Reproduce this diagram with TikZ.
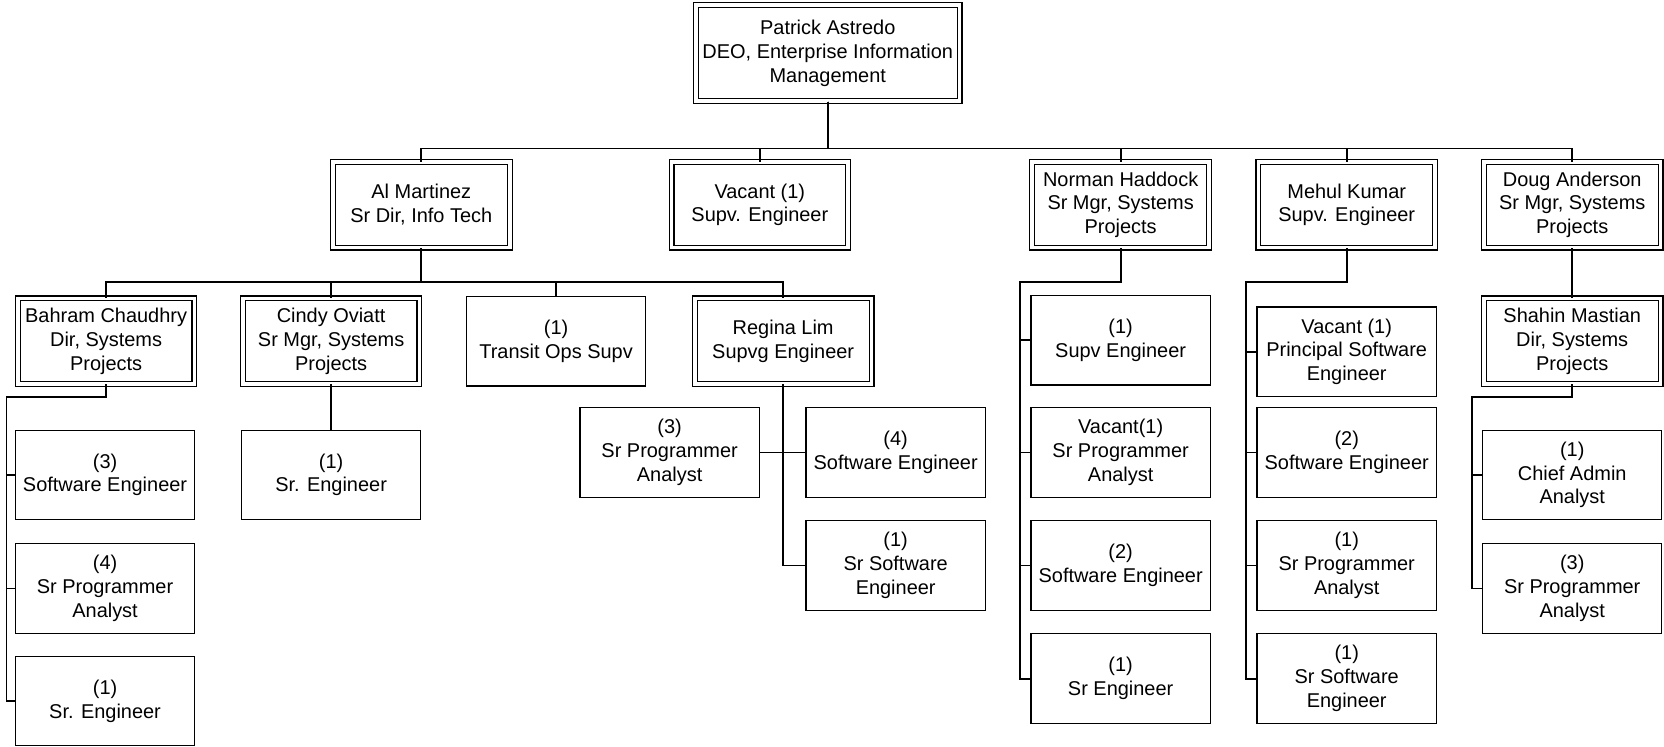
\documentclass[tikz,border=0pt]{standalone}
\usepackage{fontspec}
\setmainfont{Liberation Sans}

\begin{document}
\begin{tikzpicture}[x=0.02cm, y=-0.02cm,
every node/.style = {shape=rectangle, align=center, inner sep=0pt, font=\fontsize{10.7}{12.8}\selectfont},
box/.style = {draw, line width=0.6pt, minimum width=3.38cm, minimum height=1.69cm},
dbox/.style = {draw, double, line width=0.6pt, double distance=2pt, minimum width=3.33cm, minimum height=1.61cm},
link/.style = {draw, line width=0.9pt}]
%
\useasboundingbox (0,0) rectangle (1568,703);
%
\node [dbox, minimum width=4.97cm, minimum height=1.81cm] (deo) at (780,50) {Patrick Astredo \\ DEO, Enterprise Information \\ Management};
%
\node [dbox] (martinez) at (397,193) {Al Martinez \\ Sr Dir, Info Tech};
\node [dbox] (vacant) at (716,193) {Vacant (1) \\ Supv. Engineer};
\node [dbox] (haddock) at (1056,193) {Norman Haddock \\ Sr Mgr, Systems \\ Projects};
\node [dbox] (kumar) at (1269,193) {Mehul Kumar \\ Supv. Engineer};
\node [dbox] (anderson) at (1481.5,193) {Doug Anderson \\ Sr Mgr, Systems \\ Projects};
%
\node [dbox] (chaudhry) at (100,321.5) {Bahram Chaudhry \\ Dir, Systems \\ Projects};
\node [dbox] (oviatt) at (312,321.5) {Cindy Oviatt \\ Sr Mgr, Systems \\ Projects};
\node [box] (transit) at (524,321.5) {(1) \\ Transit Ops Supv};
\node [dbox] (lim) at (738,321.5) {Regina Lim \\ Supvg Engineer};
\node [dbox] (mastian) at (1481.5,321.5) {Shahin Mastian \\ Dir, Systems \\ Projects};
%
\node [box] (chaudhry_se) at (99,447.5) {(3) \\ Software Engineer};
\node [box] (chaudhry_spa) at (99,554.5) {(4) \\ Sr Programmer \\ Analyst};
\node [box] (chaudhry_sr) at (99,660.5) {(1) \\ Sr. Engineer};
\node [box] (oviatt_sr) at (312,447.5) {(1) \\ Sr. Engineer};
\node [box] (lim_spa) at (631,426.5) {(3) \\ Sr Programmer \\ Analyst};
\node [box] (lim_se) at (844,426.5) {(4) \\ Software Engineer};
\node [box] (lim_sse) at (844,533) {(1) \\ Sr Software \\ Engineer};
%
\node [box] (haddock_supv) at (1056,320.5) {(1) \\ Supv Engineer};
\node [box] (haddock_spa) at (1056,426.5) {Vacant(1) \\ Sr Programmer \\ Analyst};
\node [box] (haddock_se) at (1056,533) {(2) \\ Software Engineer};
\node [box] (haddock_sr) at (1056,639.5) {(1) \\ Sr Engineer};
%
\node [box] (kumar_pse) at (1269,331.5) {Vacant (1) \\ Principal Software \\ Engineer};
\node [box] (kumar_se) at (1269,426.5) {(2) \\ Software Engineer};
\node [box] (kumar_spa) at (1269,533) {(1) \\ Sr Programmer \\ Analyst};
\node [box] (kumar_sse) at (1269,639.5) {(1) \\ Sr Software \\ Engineer};
%
\node [box] (mastian_caa) at (1481.5,447.5) {(1) \\ Chief Admin \\ Analyst};
\node [box] (mastian_spa) at (1481.5,554.5) {(3) \\ Sr Programmer \\ Analyst};
%
\coordinate (deo_bus) at (780,140);
\coordinate (martinez_bus) at (397,266);
\coordinate (chaudhry_bus) at (6,374);
\coordinate (haddock_bus) at (961,266);
\coordinate (kumar_bus) at (1174,266);
\coordinate (mastian_bus) at (1387,374);
%
\foreach \n in {martinez,vacant,haddock,kumar,anderson}
	\draw [link] (deo.south) -- (deo_bus) -| (\n.north);
\foreach \n in {chaudhry,oviatt,transit,lim}
	\draw [link] (martinez.south) -- (martinez_bus) -| (\n.north);
\foreach \n in {chaudhry_se,chaudhry_spa,chaudhry_sr}
	\draw [link] (chaudhry.south) |- (chaudhry_bus) |- (\n.west);
\draw [link] (oviatt.south) -- (oviatt_sr.north);
\draw [link] (lim.south) -- (lim.south |- lim_sse.west) -- (lim_sse.west);
\draw [link] (lim_spa.east) -- (lim_se.west);
\foreach \n in {haddock_supv,haddock_spa,haddock_se,haddock_sr}
	\draw [link] (haddock.south) |- (haddock_bus) |- (\n.west);
\foreach \n in {kumar_pse,kumar_se,kumar_spa,kumar_sse}
	\draw [link] (kumar.south) |- (kumar_bus) |- (\n.west);
\draw [link] (anderson.south) -- (mastian.north);
\foreach \n in {mastian_caa,mastian_spa}
	\draw [link] (mastian.south) |- (mastian_bus) |- (\n.west);
\end{tikzpicture}
\end{document}
